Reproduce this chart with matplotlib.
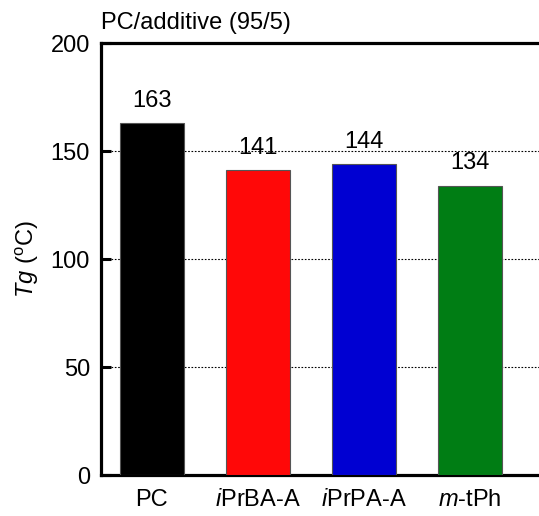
import numpy as np
import matplotlib
matplotlib.use('Agg')
import matplotlib.pyplot as plt

plt.rcParams['font.family'] = ['Liberation Sans', 'DejaVu Sans']
plt.rcParams['mathtext.fontset'] = 'custom'
plt.rcParams['mathtext.rm'] = 'Liberation Sans'
plt.rcParams['mathtext.it'] = 'Liberation Sans:italic'

labels = ['PC', r'$\mathit{i}$PrBA-A', r'$\mathit{i}$PrPA-A', r'$\mathit{m}$-tPh']
tg = [163, 141, 144, 134]
colors = ['#000000', '#FF0808', '#0000D2', '#007D14']

fs = 17

fig = plt.figure(figsize=(5.39, 5.16), dpi=100)
ax = fig.add_axes([101/539, 1 - 475/516, 1 - 101/539, (475 - 43)/516])

x = np.arange(len(tg))
bars = ax.bar(x, tg, width=0.6, color=colors, edgecolor='#555555', linewidth=0.8, zorder=3)
for xi, v in zip(x, tg):
    ax.annotate(str(v), (xi, v), xytext=(0, 8), textcoords='offset points',
                ha='center', va='bottom', fontsize=fs, zorder=4)

ax.set_xlim(-0.48, 3.65)
ax.set_ylim(0, 200)
ax.set_yticks([0, 50, 100, 150, 200])
ax.set_xticks(x)
ax.set_xticklabels(labels, fontsize=fs)
ax.tick_params(axis='x', length=0, pad=10)
ax.tick_params(axis='y', direction='in', length=7, width=2.2, labelsize=fs, pad=8)
ax.yaxis.grid(True, linestyle=(0, (1.5, 1.5)), color='black', linewidth=0.8, zorder=0)

for s in ['left', 'bottom', 'top']:
    ax.spines[s].set_linewidth(2.3)
ax.spines['right'].set_visible(False)

ax.set_ylabel(r'$\mathit{Tg}$ ($^\mathrm{o}$C)', fontsize=fs, labelpad=7)
ax.set_title('PC/additive (95/5)', loc='left', fontsize=fs, pad=10)

fig.savefig('out.png', dpi=100)
